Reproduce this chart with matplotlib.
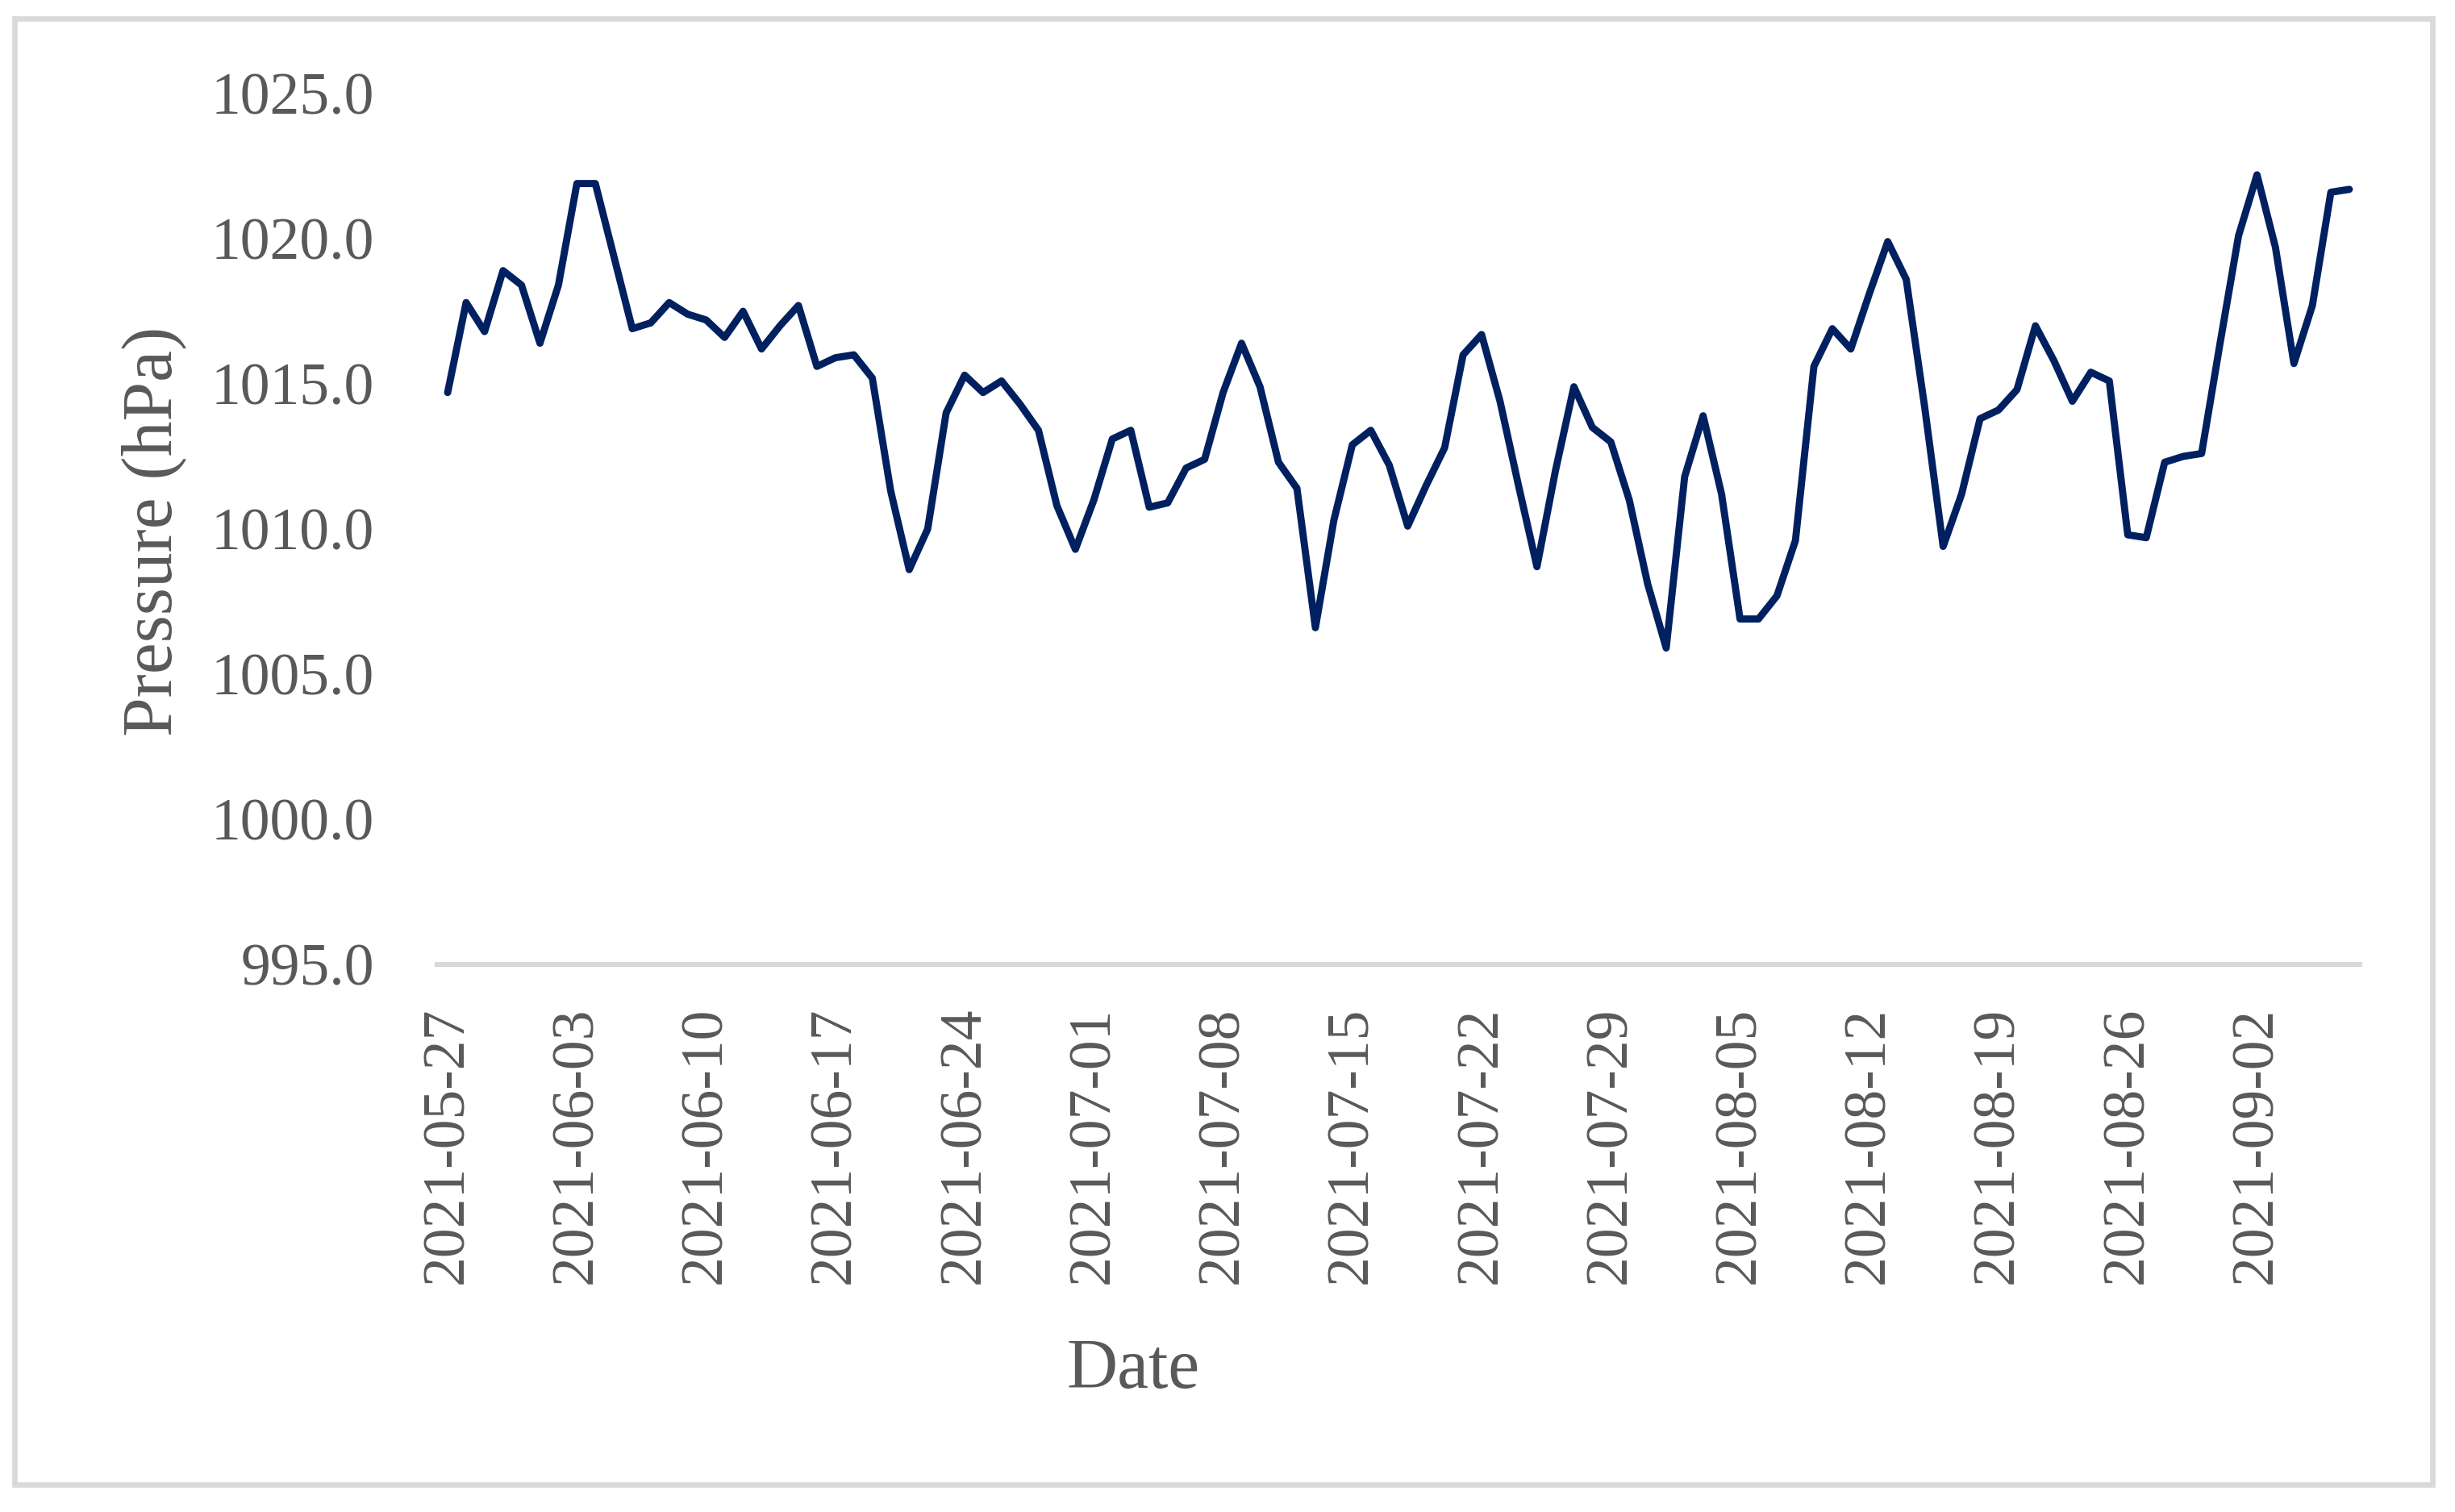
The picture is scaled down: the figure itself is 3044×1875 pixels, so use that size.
import datetime as dt
import matplotlib
matplotlib.use("Agg")
import matplotlib.pyplot as plt
import matplotlib.dates as mdates
from matplotlib.patches import Rectangle

# daily mean pressure, 2021-05-27 .. 2021-09-07
start_date = dt.date(2021, 5, 27)
pressure = [
    1014.7, 1017.8, 1016.8, 1018.9, 1018.4, 1016.4, 1018.4, 1021.9, 1021.9, 1019.4,
    1016.9, 1017.1, 1017.8, 1017.4, 1017.2, 1016.6, 1017.5, 1016.2, 1017.0, 1017.7,
    1015.6, 1015.9, 1016.0, 1015.2, 1011.3, 1008.6, 1010.0, 1014.0, 1015.3, 1014.7,
    1015.1, 1014.3, 1013.4, 1010.8, 1009.3, 1011.0, 1013.1, 1013.4, 1010.75, 1010.9,
    1012.1, 1012.4, 1014.7, 1016.4, 1014.9, 1012.3, 1011.4, 1006.6, 1010.3, 1012.9,
    1013.4, 1012.2, 1010.1, 1011.5, 1012.8, 1016.0, 1016.7, 1014.4, 1011.5, 1008.7,
    1012.0, 1014.9, 1013.5, 1013.0, 1011.0, 1008.1, 1005.9, 1011.8, 1013.9, 1011.2,
    1006.9, 1006.9, 1007.7, 1009.6, 1015.6, 1016.9, 1016.2, 1018.1, 1019.9, 1018.6,
    1014.2, 1009.4, 1011.2, 1013.8, 1014.1, 1014.8, 1017.0, 1015.8, 1014.4, 1015.4,
    1015.1, 1009.8, 1009.7, 1012.3, 1012.5, 1012.6, 1016.4, 1020.1, 1022.2, 1019.7,
    1015.7, 1017.7, 1021.6, 1021.7,
]
dates = [start_date + dt.timedelta(days=i) for i in range(len(pressure))]
tick_dates = dates[::7]
y_ticks = [995, 1000, 1005, 1010, 1015, 1020, 1025]

text_col = "#595959"
grid_col = "#D9D9D9"
line_col = "#002060"

plt.rcParams["font.family"] = ["Liberation Serif", "DejaVu Serif"]

W, H = 3044, 1875
fig = plt.figure(figsize=(W / 200, H / 200), dpi=200)
ax = fig.add_axes([542 / W, 1 - 1196 / H, (2926 - 542) / W, (1196 - 116) / H])

ax.plot(dates, pressure, color=line_col, linewidth=3.2, solid_joinstyle="round",
        solid_capstyle="round")

ax.set_xlim(mdates.date2num(dates[0]) - 0.57, mdates.date2num(dates[-1]) + 0.57)
ax.set_ylim(995, 1025)
ax.set_xticks(tick_dates)
ax.set_xticklabels([d.strftime("%Y-%m-%d") for d in tick_dates], rotation=90)
ax.set_yticks(y_ticks)
ax.set_yticklabels(["%.1f" % v for v in y_ticks])
ax.tick_params(axis="both", length=0, labelsize=26.5, colors=text_col)
ax.tick_params(axis="y", pad=28)
ax.tick_params(axis="x", pad=19)

for s in ["top", "right", "left"]:
    ax.spines[s].set_visible(False)
ax.spines["bottom"].set_color(grid_col)
ax.spines["bottom"].set_linewidth(2.2)

fig.text(191 / W, 1 - 659 / H, "Pressure (hPa)", rotation=90, ha="center", va="center",
         fontsize=31.5, color=text_col)
fig.text(1405 / W, 1 - 1721 / H, "Date", ha="center", va="baseline",
         fontsize=31.5, color=text_col)

fig.patches.append(Rectangle((18 / W, 1 - 1841 / H), (3016 - 18) / W, (1841 - 23) / H,
                             transform=fig.transFigure, fill=False,
                             edgecolor=grid_col, linewidth=2.4))

fig.savefig("out.png", dpi=200, facecolor="white")
